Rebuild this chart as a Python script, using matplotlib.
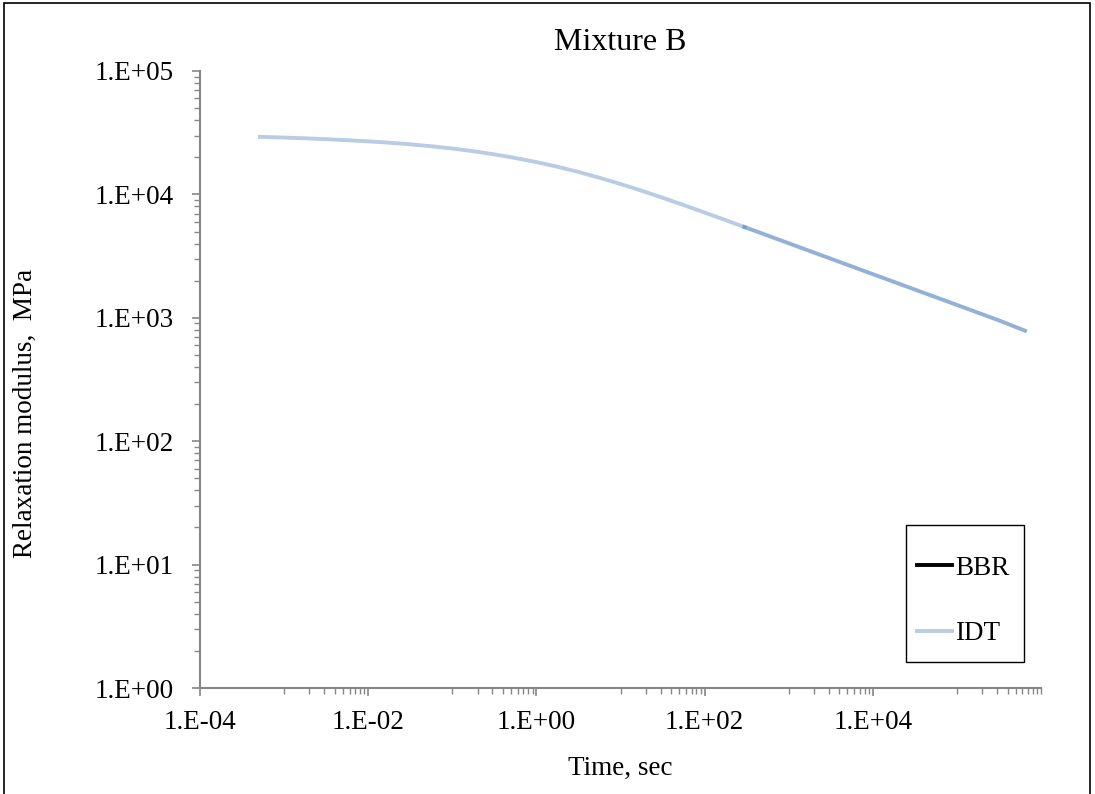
import numpy as np
import matplotlib.pyplot as plt
from matplotlib.lines import Line2D
from matplotlib.patches import Rectangle
from matplotlib.ticker import FixedLocator, NullFormatter

plt.rcParams['font.family'] = ['Liberation Serif', 'DejaVu Serif']

# IDT master curve (time in s, modulus in MPa)
# first part (lighter line)
idt_t1 = [4.9e-4, 1e-3, 1.78e-3, 3.16e-3, 5.62e-3, 1e-2, 1.78e-2, 3.16e-2, 5.62e-2,
          0.1, 0.178, 0.316, 0.562, 1.0, 1.78, 3.16, 5.62, 10, 17.8, 31.6, 56.2,
          100, 178, 316]
idt_E1 = [29310, 28870, 28480, 28020, 27500, 26920, 26240, 25460, 24560,
          23540, 22380, 21100, 19720, 18270, 16760, 15200, 13640, 12140, 10720, 9400, 8195,
          7128, 6185, 5358]
# second part (overlapping, darker line)
idt_t2 = [282, 1000, 3160, 1e4, 3.16e4, 1e5, 3.16e5, 6.8e5]
idt_E2 = [5514, 4018, 3013, 2259, 1694, 1271, 953, 775]

xticks = [1e-4, 1e-2, 1e0, 1e2, 1e4]
xticklabels = ['1.E-04', '1.E-02', '1.E+00', '1.E+02', '1.E+04']
yticks = [1e0, 1e1, 1e2, 1e3, 1e4, 1e5]
yticklabels = ['1.E+00', '1.E+01', '1.E+02', '1.E+03', '1.E+04', '1.E+05']

fig = plt.figure(figsize=(10.95, 7.94), dpi=100)
ax = fig.add_axes([200/1095, 1-688/794, 841/1095, 617/794])

idt_col = '#4F81BD'
ax.plot(idt_t1, idt_E1, color=idt_col, alpha=0.4, lw=2.8, solid_capstyle='butt')
ax.plot(idt_t2, idt_E2, color=idt_col, alpha=0.62, lw=2.8, solid_capstyle='butt')

ax.set_xscale('log')
ax.set_yscale('log')
ax.set_xlim(1e-4, 1e6)
ax.set_ylim(1e0, 1e5)

ax.xaxis.set_major_locator(FixedLocator(xticks))
ax.set_xticklabels(xticklabels)
xminor = [k * 10.0**d for d in [-3, -1, 1, 3, 5] for k in range(1, 10)] + [1e6]
ax.xaxis.set_minor_locator(FixedLocator(xminor))
ax.xaxis.set_minor_formatter(NullFormatter())

ax.yaxis.set_major_locator(FixedLocator(yticks))
ax.set_yticklabels(yticklabels)
yminor = [k * 10.0**d for d in range(0, 5) for k in range(2, 10)]
ax.yaxis.set_minor_locator(FixedLocator(yminor))
ax.yaxis.set_minor_formatter(NullFormatter())

for s in ['top', 'right']:
    ax.spines[s].set_visible(False)
for s in ['left', 'bottom']:
    ax.spines[s].set_color('#868686')
    ax.spines[s].set_linewidth(1.5)
ax.tick_params(which='major', direction='out', length=6, width=1.2, color='#868686',
               labelsize=19.5, pad=10)
ax.tick_params(which='minor', direction='out', length=4, width=1.0, color='#868686')
ax.tick_params(axis='y', which='major', pad=13)

ax.set_title('Mixture B', fontsize=23, pad=15)
ax.set_xlabel('Time, sec', fontsize=19.5, labelpad=15)
fig.text(25/1095, 1-413/794, 'Relaxation modulus,  MPa', fontsize=19.5,
         rotation=90, ha='center', va='center')

# legend: frame drawn separately to match the tall box
handles = [Line2D([], [], color='black', lw=2.8),
           Line2D([], [], color=idt_col, alpha=0.4, lw=2.8)]
leg = ax.legend(handles, ['BBR', 'IDT'], loc='center left',
                bbox_to_anchor=(917/1095, 1-601/794), bbox_transform=fig.transFigure,
                fontsize=19.5, frameon=False, handlelength=1.3,
                handletextpad=0.12, labelspacing=1.5, borderpad=0, borderaxespad=0)
fig.patches.append(Rectangle((906/1095, 1-662/794), 118/1095, 137/794,
                             transform=fig.transFigure, fill=False,
                             edgecolor='black', lw=1.0))

fig.patches.append(Rectangle((4/1095, -0.01), 1086/1095, 1 - 3/794 + 0.01,
                             transform=fig.transFigure, fill=False,
                             edgecolor='black', lw=1.2))

plt.savefig('out.png', dpi=100)
